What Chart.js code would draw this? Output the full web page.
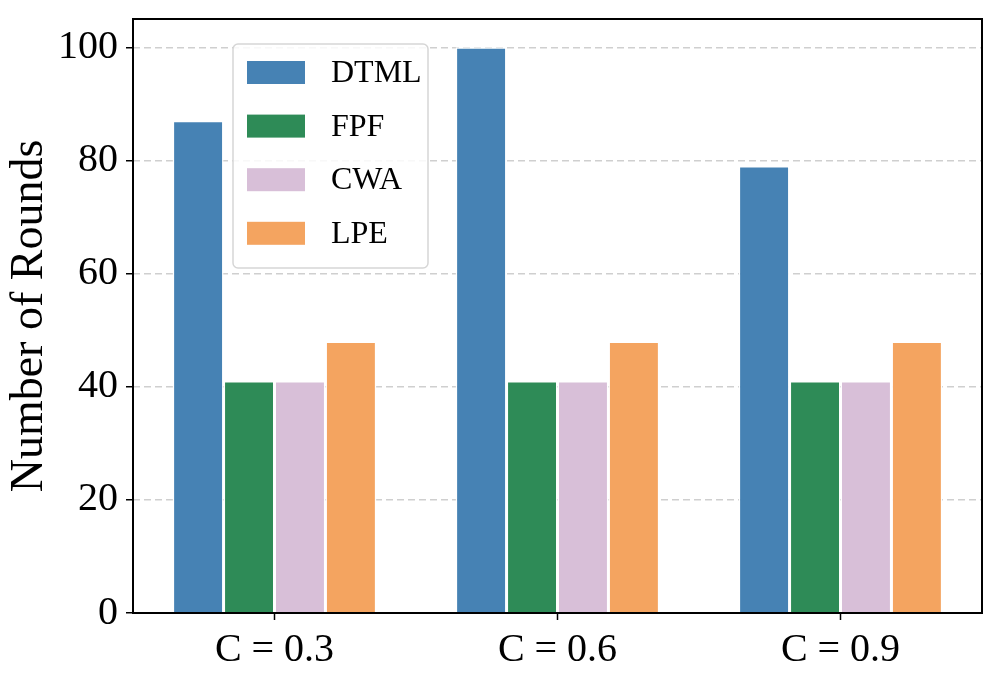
<!DOCTYPE html>
<html>
<head>
<meta charset="utf-8">
<script src="https://cdn.jsdelivr.net/npm/chart.js@4.4.1/dist/chart.umd.min.js"></script>
<style>
  html, body { margin: 0; padding: 0; background: #ffffff; }
  #wrap { width: 997px; height: 696px; position: relative; }
</style>
</head>
<body>
<div id="wrap"><canvas id="c"></canvas></div>
<script>
const categories = ["C = 0.3", "C = 0.6", "C = 0.9"];
const seriesNames = ["DTML", "FPF", "CWA", "LPE"];
const dtml = [87, 100, 79];
const fpf = [41, 41, 41];
const cwa = [41, 41, 41];
const lpe = [48, 48, 48];
const yTicks = [0, 20, 40, 60, 80, 100];
const colors = ["#4682B4", "#2E8B57", "#D8BFD8", "#F4A460"];

const FONT = "'Liberation Serif', 'Times New Roman', serif";

const spinesPlugin = {
  id: 'spines',
  afterDatasetsDraw(chart) {
    const { ctx, chartArea: a } = chart;
    ctx.save();
    ctx.strokeStyle = '#000';
    ctx.lineWidth = 2;
    ctx.strokeRect(a.left, a.top, a.right - a.left, a.bottom - a.top);
    ctx.restore();
  }
};

const legendPlugin = {
  id: 'boxLegend',
  afterDraw(chart) {
    const ctx = chart.ctx;
    const x0 = 233, y0 = 44, w = 195, h = 224, r = 5;
    ctx.save();
    ctx.beginPath();
    ctx.moveTo(x0 + r, y0);
    ctx.arcTo(x0 + w, y0, x0 + w, y0 + h, r);
    ctx.arcTo(x0 + w, y0 + h, x0, y0 + h, r);
    ctx.arcTo(x0, y0 + h, x0, y0, r);
    ctx.arcTo(x0, y0, x0 + w, y0, r);
    ctx.closePath();
    ctx.fillStyle = 'rgba(255,255,255,0.85)';
    ctx.fill();
    ctx.strokeStyle = '#d6d6d6';
    ctx.lineWidth = 1.5;
    ctx.stroke();
    chart.data.datasets.forEach((ds, i) => {
      const cy = 72.5 + i * 53.6;
      ctx.fillStyle = ds.backgroundColor;
      ctx.fillRect(247, cy - 11.5, 58, 23);
      ctx.fillStyle = '#000';
      ctx.font = "32px " + FONT;
      ctx.textBaseline = 'middle';
      ctx.textAlign = 'left';
      ctx.fillText(ds.label, 331, cy + 1);
    });
    ctx.restore();
  }
};

const seriesData = [dtml, fpf, cwa, lpe];

new Chart(document.getElementById('c'), {
  type: 'bar',
  data: {
    labels: categories,
    datasets: seriesNames.map((n, i) => ({
      label: n,
      data: seriesData[i],
      backgroundColor: colors[i],
      borderColor: '#ffffff',
      borderWidth: 1.5,
      borderSkipped: 'start',
      categoryPercentage: 0.72,
      barPercentage: 1.0
    }))
  },
  options: {
    responsive: true,
    maintainAspectRatio: false,
    animation: false,
    devicePixelRatio: 1,
    layout: { padding: { left: 0, right: 15, top: 19, bottom: 0 } },
    plugins: {
      legend: { display: false },
      tooltip: { enabled: false }
    },
    scales: {
      x: {
        type: 'category',
        offset: true,
        grid: {
          display: true,
          offset: false,
          drawOnChartArea: false,
          drawTicks: true,
          tickLength: 7,
          tickColor: '#000',
          tickWidth: 1.5
        },
        border: { display: false },
        ticks: {
          color: '#000',
          font: { family: FONT, size: 40 },
          padding: 6,
          maxRotation: 0
        },
        afterFit(s) { s.height = 83; s.paddingLeft = 0; s.paddingRight = 0; }
      },
      y: {
        min: 0,
        max: 105,
        afterBuildTicks(s) { s.ticks = yTicks.map(v => ({ value: v })); },
        grid: {
          display: true,
          color: '#cfcfcf',
          lineWidth: 1.5,
          drawTicks: true,
          tickLength: 7,
          tickColor: '#000',
          tickWidth: 1.5,
          tickBorderDash: []
        },
        border: { display: false, dash: [7, 4] },
        ticks: {
          color: '#000',
          font: { family: FONT, size: 40 },
          padding: 8
        },
        title: {
          display: true,
          text: 'Number of Rounds',
          color: '#000',
          font: { family: FONT, size: 46 },
          padding: { top: 2, bottom: 0 }
        },
        afterFit(s) { s.width = 133; s.paddingTop = 0; s.paddingBottom = 0; }
      }
    }
  },
  plugins: [spinesPlugin, legendPlugin]
});
</script>
</body>
</html>
